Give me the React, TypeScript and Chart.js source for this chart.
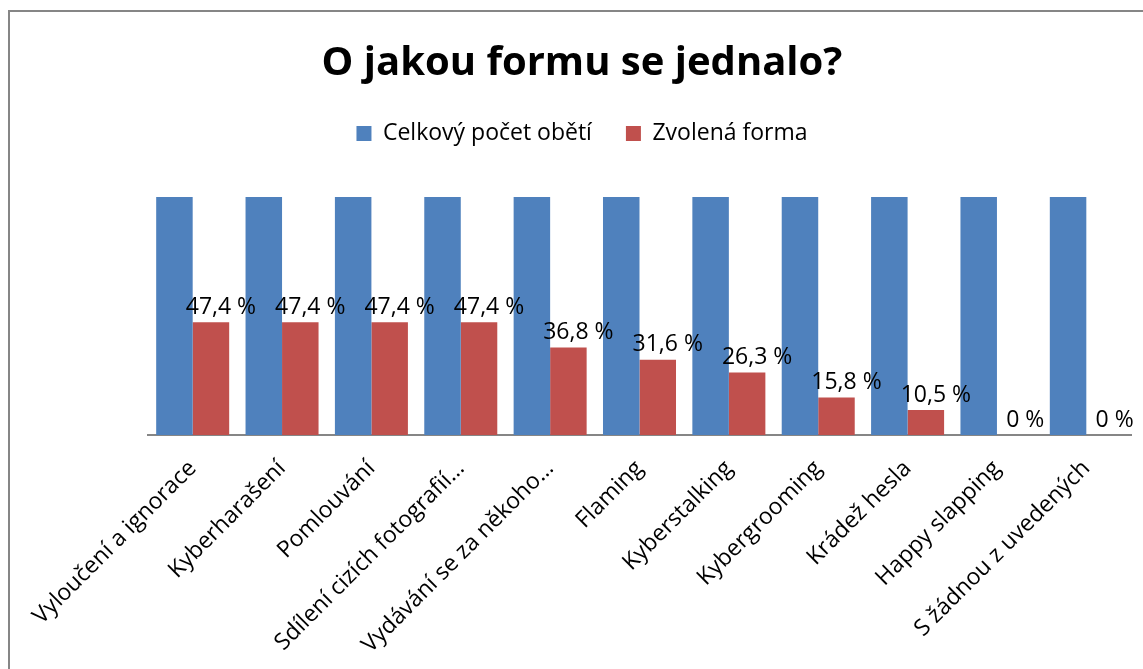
import React, { useEffect, useRef } from "react";
import { Chart, registerables } from "chart.js";

Chart.register(...registerables);

const categories = [
  "Vyloučení a ignorace",
  "Kyberharašení",
  "Pomlouvání",
  "Sdílení cizích fotografií…",
  "Vydávání se za někoho…",
  "Flaming",
  "Kyberstalking",
  "Kybergrooming",
  "Krádež hesla",
  "Happy slapping",
  "S žádnou z uvedených",
];

const totalVictims = [100, 100, 100, 100, 100, 100, 100, 100, 100, 100, 100];
const chosenForm = [47.4, 47.4, 47.4, 47.4, 36.8, 31.6, 26.3, 15.8, 10.5, 0, 0];

const seriesNames = ["Celkový počet obětí", "Zvolená forma"];
const titleText = "O jakou formu se jednalo?";

const FONT = "'Open Sans', 'DejaVu Sans', sans-serif";

const fmt = (v: number) => (v === 0 ? "0 %" : v.toFixed(1).replace(".", ",") + " %");

const labelPlugin = {
  id: "redLabels",
  afterDatasetsDraw(chart: any) {
    const ctx = chart.ctx;
    const meta = chart.getDatasetMeta(1);
    ctx.save();
    ctx.font = `23px ${FONT}`;
    ctx.fillStyle = "#000";
    ctx.textAlign = "center";
    ctx.textBaseline = "middle";
    meta.data.forEach((bar: any, i: number) => {
      ctx.fillText(fmt(chosenForm[i]), bar.x + 10, bar.y - 15);
    });
    ctx.restore();
  },
};

export default function App() {
  const ref = useRef<HTMLCanvasElement | null>(null);
  useEffect(() => {
    if (!ref.current) return;
    const chart = new Chart(ref.current, {
      type: "bar",
      data: {
        labels: categories,
        datasets: [
          {
            label: seriesNames[0],
            data: totalVictims,
            backgroundColor: "#4F81BD",
            barPercentage: 1,
            categoryPercentage: 0.817,
          },
          {
            label: seriesNames[1],
            data: chosenForm,
            backgroundColor: "#C0504D",
            barPercentage: 1,
            categoryPercentage: 0.817,
          },
        ],
      },
      options: {
        responsive: false,
        animation: false,
        layout: { padding: { left: 33, right: 12, top: 0, bottom: 0 } },
        plugins: {
          title: {
            display: true,
            text: titleText,
            color: "#000",
            font: { family: FONT, size: 40, weight: "bold" },
            padding: { top: 40, bottom: 0 },
          },
          legend: {
            display: true,
            position: "top",
            weight: 1600,
            labels: {
              boxWidth: 15,
              boxHeight: 15,
              padding: 34,
              color: "#000",
              font: { family: FONT, size: 23 },
            },
          } as any,
          subtitle: {
            display: true,
            text: "",
            weight: 1500,
            font: { size: 10 },
            padding: { top: 30, bottom: 0 },
          } as any,
          tooltip: { enabled: false },
        },
        scales: {
          x: {
            grid: { display: false },
            border: { display: true, color: "#868686", width: 2 },
            ticks: {
              color: "#000",
              font: { family: FONT, size: 23 },
              maxRotation: 45,
              minRotation: 45,
              autoSkip: false,
              padding: 12,
            },
            afterFit: (scale: any) => {
              scale.height = 234;
            },
          },
          y: {
            display: true,
            min: 0,
            max: 100,
            grid: { display: false },
            border: { display: false },
            ticks: { display: false },
            afterFit: (scale: any) => {
              scale.width = 115;
            },
          },
        },
      },
      plugins: [labelPlugin],
    });
    return () => chart.destroy();
  }, []);

  return (
    <div style={{ position: "fixed", left: 0, top: 0, width: 1143, height: 669, overflow: "hidden", background: "#fff" }}>
      <div
        style={{
          position: "absolute",
          left: 8,
          top: 10,
          width: 2000,
          height: 2000,
          borderTop: "2px solid #868686",
          borderLeft: "2px solid #868686",
        }}
      />
      <canvas ref={ref} width={1143} height={669} style={{ position: "absolute", left: 0, top: 0 }} />
    </div>
  );
}
